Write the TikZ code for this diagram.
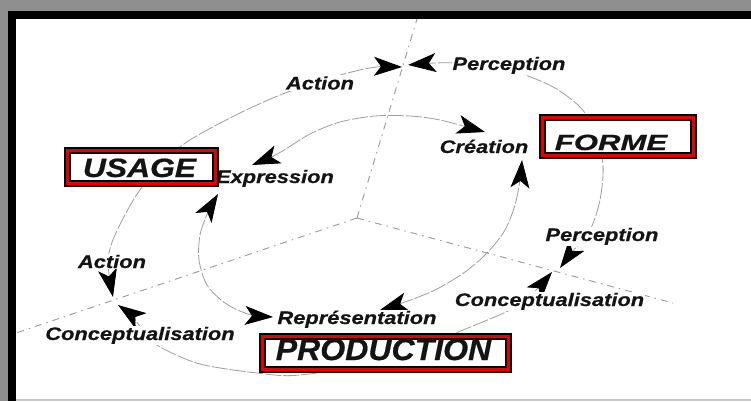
\documentclass[tikz,border=0pt]{standalone}
\usepackage{fontspec}
\usepackage{graphicx}
\usetikzlibrary{arrows.meta}
\newfontfamily\lblfont[FakeStretch=1.2,FakeBold=0.6]{Liberation Sans}
\definecolor{bgc}{gray}{0.56}
\definecolor{frred}{RGB}{228,0,0}
\definecolor{curvec}{gray}{0.62}
\definecolor{axisc}{gray}{0.6}
\begin{document}
\begin{tikzpicture}[x=1pt,y=1pt,
  lbl/.style={font={\lblfont\bfseries\itshape\fontsize{18.2}{20}\selectfont}, fill=white, inner sep=1pt, anchor=base, text=black!92},
  big/.style={font={\lblfont\bfseries\itshape}, anchor=base, inner sep=0pt, text=black!92},
  bigbox/.style={draw=black, line width=2pt, double=frred, double distance=2.5pt, fill=white, inner sep=0pt},
  cyc/.style={draw=curvec, line width=0.8pt, dash pattern=on 16pt off 2pt},
  axis/.style={draw=axisc, line width=0.9pt, dash pattern=on 7pt off 5pt on 1.5pt off 5pt},
  tips/.style={{Stealth[length=28pt,width=19pt,inset=7pt,black]}-{Stealth[length=28pt,width=19pt,inset=7pt,black]}}
]
\useasboundingbox (0,0) rectangle (751,-401);
% frame
\fill[bgc] (0,0) rectangle (751,-401);
\fill[black] (8,-11) rectangle (751,-401);
\fill[white] (16,-19) rectangle (751,-399);
\fill[gray!45] (16,-399) rectangle (751,-401);

% axes
\coordinate (O) at (357,-218);
\coordinate (axU) at (417,-19);
\coordinate (axL) at (16,-333);
\coordinate (axR) at (673,-303);
\draw[axis] (O) -- (axU);
\draw[axis] (O) -- (axL);
\draw[axis] (O) -- (axR);

% outer cycle end points
\coordinate (Ta) at (402,-67);
\coordinate (Tb) at (408,-65);
\coordinate (Lb) at (113,-297);
\coordinate (La) at (118,-305);
\coordinate (Rb) at (552,-272);
\coordinate (Ra) at (560,-268);

\draw[cyc,tips] plot[smooth] coordinates {(Ta) (370,-68) (330,-78) (280,-95) (230,-118) (180,-147) (140,-190) (115,-235) (108,-262) (Lb)};
\draw[cyc,tips] plot[smooth] coordinates {(La) (132,-316) (145,-333) (160,-347) (200,-364) (257,-373) (300,-375) (390,-360) (463,-330) (510,-310) (533,-293) (Rb)};
\draw[cyc,tips] plot[smooth] coordinates {(Ra) (572,-252) (590,-230) (600,-200) (603,-165) (595,-130) (580,-107) (555,-88) (525,-75) (490,-66) (460,-63) (435,-63) (Tb)};

% inner cycle end points
\coordinate (E1) at (252,-165);
\coordinate (E2) at (218,-194);
\coordinate (C1) at (485,-132);
\coordinate (C2) at (522,-160);
\coordinate (R1) at (273,-317);
\coordinate (R2) at (380,-310);

\draw[cyc,tips] plot[smooth] coordinates {(E1) (279,-153) (310,-134) (340,-122) (375,-116) (410,-116) (440,-120) (C1)};
\draw[cyc,tips] plot[smooth] coordinates {(E2) (208,-212) (200,-235) (199,-260) (207,-285) (225,-303) (248,-314) (R1)};
\draw[cyc,tips] plot[smooth] coordinates {(C2) (520,-180) (515,-205) (505,-230) (488,-252) (465,-272) (435,-290) (405,-302) (R2)};

% small labels
\node[lbl] (actT) at (320,-89.5) {Action};
\node[lbl] (percT) at (509,-70) {Perception};
\node[lbl] (expr) at (275,-183) {Expression};
\node[lbl] (crea) at (484,-153) {Création};
\node[lbl] (repr) at (357,-324) {Représentation};
\node[lbl] (actL) at (112,-268) {Action};
\node[lbl] (concL) at (140,-340) {Conceptualisation};
\node[lbl] (percR) at (602,-241) {Perception};
\node[lbl] (concR) at (549.5,-306) {Conceptualisation};

% big boxes
\node[bigbox, minimum width=148pt, minimum height=33pt] (usageBox) at (141.5,-167) {};
\node[bigbox, minimum width=151pt, minimum height=38pt] (formeBox) at (618,-136.5) {};
\node[bigbox, minimum width=246pt, minimum height=33pt] (prodBox) at (385.5,-353) {};

\node[big] (usage) at (139.5,-177) {\fontsize{26.5}{28}\selectfont USAGE};
\node[big] (forme) at (611,-150) {\fontsize{22}{24}\selectfont\scalebox{1.18}[1]{FORME}};
\node[big] (prod) at (383.5,-360) {\fontsize{30.7}{32}\selectfont\scalebox{0.87}[1]{PRODUCTION}};
\end{tikzpicture}
\end{document}
